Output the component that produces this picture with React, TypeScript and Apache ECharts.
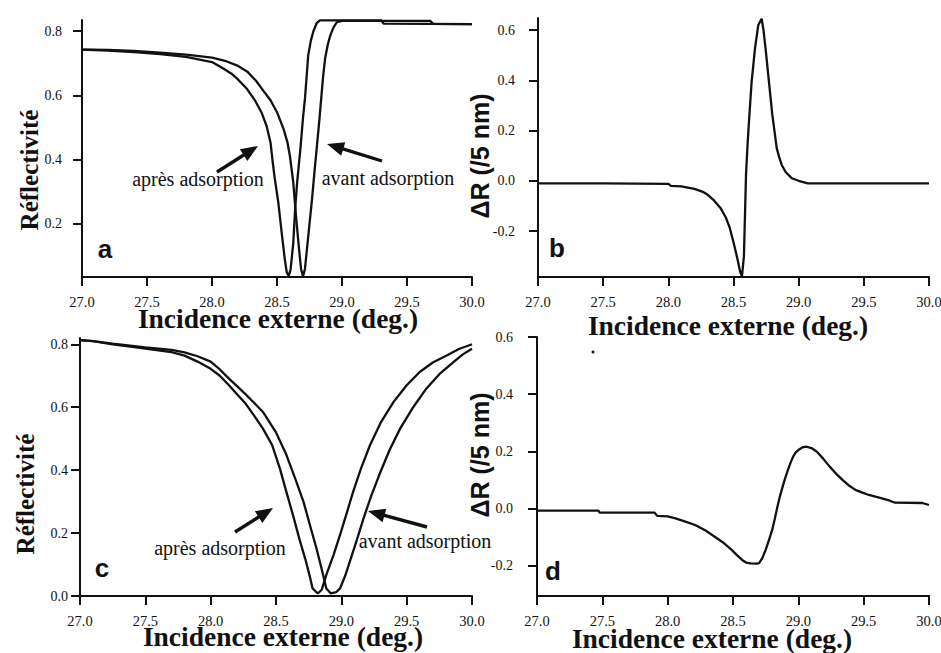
import React, { useEffect, useRef } from "react";
import * as echarts from "echarts";

// ---------- tick values ----------
const X_TICKS = [27.0, 27.5, 28.0, 28.5, 29.0, 29.5, 30.0];
const A_Y_TICKS = [0.2, 0.4, 0.6, 0.8];
const B_Y_TICKS = [-0.2, 0.0, 0.2, 0.4, 0.6];
const C_Y_TICKS = [0.0, 0.2, 0.4, 0.6, 0.8];
const D_Y_TICKS = [-0.2, 0.0, 0.2, 0.4, 0.6];

// ---------- panel a : reflectivity (narrow resonance) ----------
const A_AVANT_X = [27.0, 27.2, 27.4, 27.6, 27.8, 28.0, 28.1, 28.2, 28.27, 28.34, 28.4, 28.45, 28.5, 28.55, 28.58, 28.6, 28.625, 28.646, 28.67, 28.685, 28.7, 28.715, 28.73, 28.75, 28.77, 28.79, 28.805, 28.825, 28.84, 28.855, 28.87, 28.89, 28.91, 28.935, 28.96, 29.0, 29.68, 29.7, 30.0];
const A_AVANT_Y = [0.743, 0.742, 0.739, 0.733, 0.727, 0.718, 0.708, 0.692, 0.675, 0.645, 0.612, 0.585, 0.548, 0.496, 0.455, 0.41, 0.33, 0.225, 0.12, 0.06, 0.037, 0.06, 0.12, 0.2, 0.28, 0.37, 0.434, 0.52, 0.59, 0.66, 0.715, 0.757, 0.787, 0.812, 0.828, 0.832, 0.832, 0.823, 0.822];
const A_APRES_X = [27.0, 27.2, 27.4, 27.6, 27.8, 28.0, 28.09, 28.15, 28.2, 28.27, 28.33, 28.38, 28.42, 28.45, 28.465, 28.48, 28.51, 28.536, 28.56, 28.575, 28.59, 28.605, 28.625, 28.64, 28.655, 28.68, 28.7, 28.715, 28.73, 28.74, 28.76, 28.78, 28.805, 28.83, 29.3, 29.32, 30.0];
const A_APRES_Y = [0.743, 0.74, 0.735, 0.729, 0.72, 0.704, 0.683, 0.668, 0.65, 0.62, 0.585, 0.548, 0.505, 0.454, 0.4, 0.35, 0.267, 0.173, 0.09, 0.05, 0.037, 0.06, 0.14, 0.25, 0.33, 0.434, 0.53, 0.59, 0.67, 0.725, 0.77, 0.8, 0.825, 0.834, 0.834, 0.824, 0.822];

// ---------- panel b : difference ----------
const B_DIFF_X = [27.0, 27.5, 28.0, 28.02, 28.1, 28.2, 28.26, 28.3, 28.35, 28.4, 28.44, 28.47, 28.5, 28.53, 28.55, 28.565, 28.58, 28.596, 28.609, 28.622, 28.639, 28.665, 28.69, 28.716, 28.73, 28.746, 28.772, 28.798, 28.832, 28.85, 28.87, 28.9, 28.947, 29.0, 29.07, 30.0];
const B_DIFF_Y = [-0.01, -0.01, -0.012, -0.02, -0.022, -0.032, -0.043, -0.055, -0.078, -0.108, -0.145, -0.185, -0.245, -0.31, -0.36, -0.38, -0.3, 0.023, 0.155, 0.262, 0.394, 0.527, 0.62, 0.645, 0.6, 0.527, 0.394, 0.262, 0.129, 0.095, 0.063, 0.035, 0.01, 0.0, -0.01, -0.01];

// ---------- panel c : reflectivity (broad resonance) ----------
const C_AVANT_X = [27.0, 27.1, 27.25, 27.4, 27.5, 27.6, 27.7, 27.8, 27.9, 28.0, 28.07, 28.14, 28.2, 28.27, 28.33, 28.4, 28.5, 28.58, 28.65, 28.71, 28.76, 28.81, 28.85, 28.885, 28.92, 28.96, 28.99, 29.03, 29.065, 29.12, 29.17, 29.23, 29.3, 29.37, 29.45, 29.55, 29.65, 29.75, 29.86, 29.93, 30.0];
const C_AVANT_Y = [0.813, 0.81, 0.802, 0.795, 0.79, 0.786, 0.782, 0.774, 0.762, 0.745, 0.72, 0.691, 0.668, 0.64, 0.615, 0.585, 0.52, 0.448, 0.37, 0.3, 0.225, 0.151, 0.085, 0.024, 0.008, 0.012, 0.024, 0.065, 0.109, 0.18, 0.247, 0.32, 0.395, 0.465, 0.532, 0.6, 0.659, 0.705, 0.744, 0.768, 0.786];
const C_APRES_X = [27.0, 27.1, 27.25, 27.4, 27.5, 27.6, 27.7, 27.8, 27.9, 28.0, 28.07, 28.14, 28.2, 28.27, 28.33, 28.4, 28.47, 28.53, 28.58, 28.63, 28.68, 28.73, 28.76, 28.78, 28.82, 28.85, 28.885, 28.94, 28.99, 29.04, 29.09, 29.15, 29.22, 29.3, 29.4, 29.5, 29.6, 29.7, 29.81, 29.9, 30.0];
const C_APRES_Y = [0.813, 0.81, 0.8, 0.792, 0.786, 0.781, 0.775, 0.764, 0.745, 0.722, 0.7, 0.67, 0.642, 0.61, 0.575, 0.532, 0.48, 0.405, 0.33, 0.257, 0.18, 0.109, 0.06, 0.024, 0.008, 0.02, 0.067, 0.13, 0.194, 0.262, 0.331, 0.405, 0.48, 0.55, 0.617, 0.67, 0.712, 0.742, 0.765, 0.785, 0.8];

// ---------- panel d : difference ----------
const D_DIFF_X = [27.0, 27.47, 27.48, 27.9, 27.92, 28.0, 28.06, 28.13, 28.21, 28.29, 28.36, 28.43, 28.49, 28.53, 28.57, 28.6, 28.635, 28.68, 28.7, 28.725, 28.75, 28.775, 28.8, 28.82, 28.84, 28.86, 28.88, 28.9, 28.92, 28.94, 28.96, 28.98, 29.0, 29.03, 29.06, 29.1, 29.14, 29.19, 29.24, 29.29, 29.34, 29.39, 29.44, 29.49, 29.54, 29.59, 29.64, 29.7, 29.74, 29.95, 30.0];
const D_DIFF_Y = [-0.007, -0.007, -0.014, -0.014, -0.025, -0.027, -0.034, -0.044, -0.057, -0.076, -0.098, -0.12, -0.144, -0.162, -0.179, -0.188, -0.191, -0.192, -0.19, -0.172, -0.144, -0.11, -0.074, -0.035, 0.007, 0.045, 0.077, 0.108, 0.135, 0.16, 0.182, 0.197, 0.205, 0.214, 0.217, 0.212, 0.2, 0.175, 0.147, 0.122, 0.1, 0.08, 0.065, 0.056, 0.048, 0.042, 0.036, 0.028, 0.021, 0.02, 0.013];

const SERIF = "Liberation Serif, Times New Roman, serif";
const SANS = "Liberation Sans, Arial, sans-serif";
const INK = "#111";

function pairs(xs: number[], ys: number[]) {
  return xs.map((x, i) => [x, ys[i]]);
}

function makeX(gridIndex: number) {
  return {
    type: "value",
    gridIndex,
    min: 27,
    max: 30,
    interval: 0.5,
    axisLine: { show: true, onZero: false, lineStyle: { color: INK, width: 2 } },
    axisTick: { show: true, length: 9, customValues: X_TICKS, lineStyle: { color: INK, width: 2 } },
    axisLabel: {
      customValues: X_TICKS,
      formatter: (v: number) => v.toFixed(1),
      fontFamily: SERIF,
      fontSize: 14.5,
      color: INK,
      margin: 17,
    },
    splitLine: { show: false },
  };
}

function makeY(gridIndex: number, min: number, max: number, ticks: number[], margin: number) {
  return {
    type: "value",
    gridIndex,
    min,
    max,
    axisLine: { show: true, onZero: false, lineStyle: { color: INK, width: 2 } },
    axisTick: { show: true, length: 9, customValues: ticks, lineStyle: { color: INK, width: 2 } },
    axisLabel: {
      customValues: ticks,
      formatter: (v: number) => v.toFixed(1),
      fontFamily: SERIF,
      fontSize: 14,
      color: INK,
      margin,
    },
    splitLine: { show: false },
  };
}

function line(idx: number, data: number[][]) {
  return {
    type: "line",
    xAxisIndex: idx,
    yAxisIndex: idx,
    data,
    showSymbol: false,
    symbol: "none",
    lineStyle: { color: INK, width: 2.3 },
    silent: true,
  };
}

function text(t: string, x: number, y: number, size: number, weight: string, family: string, rotation = 0) {
  return {
    type: "text",
    x,
    y,
    rotation,
    silent: true,
    z: 100,
    style: {
      text: t,
      fill: INK,
      fontSize: size,
      fontWeight: weight,
      fontFamily: family,
      align: "center",
      verticalAlign: "middle",
      textAlign: "center",
      textVerticalAlign: "middle",
    },
  };
}

function arrow(x1: number, y1: number, x2: number, y2: number) {
  const dx = x2 - x1;
  const dy = y2 - y1;
  const L = Math.hypot(dx, dy);
  const ux = dx / L;
  const uy = dy / L;
  const hl = 17;
  const hw = 7;
  const bx = x2 - ux * hl;
  const by = y2 - uy * hl;
  const px = -uy;
  const py = ux;
  return [
    { type: "line", silent: true, z: 100, shape: { x1, y1, x2: bx + ux * 2, y2: by + uy * 2 }, style: { stroke: INK, lineWidth: 3.4 } },
    {
      type: "polygon",
      silent: true,
      z: 100,
      shape: { points: [[x2, y2], [bx + px * hw, by + py * hw], [bx - px * hw, by - py * hw]] },
      style: { fill: INK },
    },
  ];
}

export default function App() {
  const ref = useRef<HTMLDivElement>(null);

  useEffect(() => {
    if (!ref.current) return;
    const chart = echarts.init(ref.current, undefined, { renderer: "svg" });

    const title = "Incidence externe (deg.)";
    const graphic: any[] = [
      // x axis titles
      text(title, 278, 318, 27.5, "bold", SERIF),
      text(title, 728, 325, 27.5, "bold", SERIF),
      text(title, 283, 636, 27.5, "bold", SERIF),
      text(title, 712, 638, 27.5, "bold", SERIF),
      // y axis titles
      text("Réflectivité", 29, 170, 25, "bold", SERIF, Math.PI / 2),
      text("Réflectivité", 25, 494, 25, "bold", SERIF, Math.PI / 2),
      text("ΔR (/5 nm)", 480, 156, 25, "bold", SANS, Math.PI / 2),
      text("ΔR (/5 nm)", 480, 455, 25, "bold", SANS, Math.PI / 2),
      // panel letters
      text("a", 105, 249, 26, "bold", SANS),
      text("b", 557, 248, 26, "bold", SANS),
      text("c", 102, 568, 26, "bold", SANS),
      text("d", 553, 571, 26, "bold", SANS),
      // annotations
      text("après adsorption", 198, 179, 20, "normal", SERIF),
      text("avant adsorption", 388, 178, 20, "normal", SERIF),
      text("après adsorption", 220, 548, 20, "normal", SERIF),
      text("avant adsorption", 425, 541, 20, "normal", SERIF),
      ...arrow(217, 172, 258, 146),
      ...arrow(382, 161, 327, 144),
      ...arrow(235, 532, 273, 508),
      ...arrow(427, 527, 368, 511),
      // stray scan dot
      { type: "circle", silent: true, shape: { cx: 593, cy: 352, r: 1.5 }, style: { fill: INK } },
    ];

    chart.setOption({
      animation: false,
      backgroundColor: "#fff",
      textStyle: { fontFamily: SERIF },
      grid: [
        { left: 82, top: 20, width: 390, height: 257, outerBoundsMode: "none", containLabel: false },
        { left: 538, top: 18, width: 391, height: 259, outerBoundsMode: "none", containLabel: false },
        { left: 80, top: 338, width: 392, height: 258, outerBoundsMode: "none", containLabel: false },
        { left: 537, top: 337, width: 392, height: 259, outerBoundsMode: "none", containLabel: false },
      ],
      xAxis: [makeX(0), makeX(1), makeX(2), makeX(3)],
      yAxis: [
        makeY(0, 0.035, 0.835, A_Y_TICKS, 20),
        makeY(1, -0.383, 0.648, B_Y_TICKS, 23),
        makeY(2, 0, 0.82, C_Y_TICKS, 12),
        makeY(3, -0.305, 0.6, D_Y_TICKS, 24),
      ],
      series: [
        line(0, pairs(A_AVANT_X, A_AVANT_Y)),
        line(0, pairs(A_APRES_X, A_APRES_Y)),
        line(1, pairs(B_DIFF_X, B_DIFF_Y)),
        line(2, pairs(C_AVANT_X, C_AVANT_Y)),
        line(2, pairs(C_APRES_X, C_APRES_Y)),
        line(3, pairs(D_DIFF_X, D_DIFF_Y)),
      ],
      graphic,
    });

    return () => {
      chart.dispose();
    };
  }, []);

  return (
    <div
      ref={ref}
      style={{ position: "fixed", left: 0, top: 0, width: 941, height: 653, background: "#fff" }}
    />
  );
}
